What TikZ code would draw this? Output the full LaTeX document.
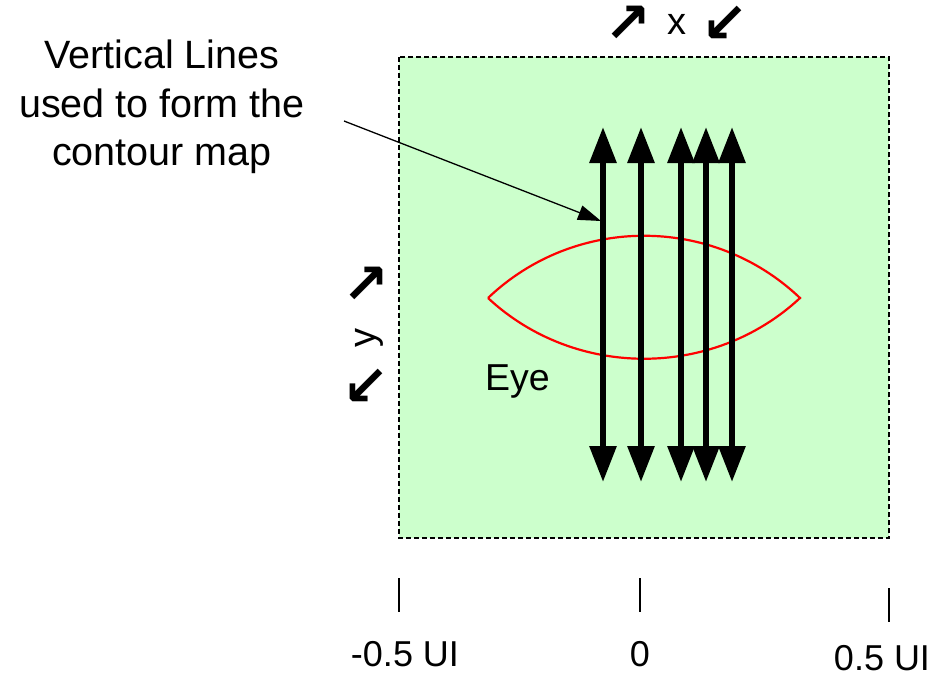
\documentclass[tikz,border=0pt]{standalone}
\usepackage{fontspec}
\setmainfont{Liberation Sans}
\newfontfamily\arrowfont{DejaVu Sans Bold}
\usetikzlibrary{arrows.meta,positioning}
\definecolor{boxgreen}{HTML}{CCFFCC}

\begin{document}
\begin{tikzpicture}[x=1pt,y=-1pt,
  lbl/.style={font=\fontsize{36}{48.5}\selectfont,inner sep=0pt},
  diag/.style={font=\arrowfont\fontsize{56}{56}\selectfont,inner sep=0pt},
  scan/.style={black,line width=6pt,{Triangle[length=36pt,width=26pt]}-{Triangle[length=36pt,width=26pt]}},
  pointer/.style={black,line width=1.3pt,-{Triangle[length=23pt,width=15pt]}},
  tick/.style={black,line width=1.5pt}
]
  \useasboundingbox (0,0) rectangle (947,678);

  % Unit interval window
  \draw[fill=boxgreen,line width=1.2pt,dash pattern=on 5pt off 3pt] (399,57) rectangle (889,538);

  % Eye opening
  \draw[red,line width=2.2pt] (488,298) .. controls (575,215) and (713,215) .. (800,298)
                                        .. controls (713,379) and (575,379) .. (488,298);

  % Vertical scan lines
  \foreach \n/\x in {1/603,2/641,3/681,4/706,5/732}{
    \coordinate (t\n) at (\x,127);
    \coordinate (b\n) at (\x,482);
    \draw[scan] (b\n) -- (t\n);
  }

  % Label with pointer
  \node[lbl,font=\fontsize{39.5}{48.5}\selectfont,align=center,anchor=north] (vlines) at (162,40) {Vertical Lines\\used to form the\\contour map};
  \coordinate (ptr) at (344,121);
  \coordinate (hit) at (601,221);
  \draw[pointer] (ptr) -- (hit);

  \node[lbl,font=\fontsize{37.5}{40}\selectfont,anchor=base west] (eye) at (485,390) {Eye};

  % Axis directions
  \node[diag] (xne) at (628,24) {↗};
  \node[lbl,font=\fontsize{38}{40}\selectfont,anchor=base] (xlbl) at (677,34) {x};
  \node[diag] (xsw) at (725,24) {↙};
  \node[diag] (yne) at (366,285) {↗};
  \node[lbl,font=\fontsize{38}{40}\selectfont,rotate=90] (ylbl) at (369,338) {y};
  \node[diag] (ysw) at (366,387) {↙};

  % Ticks and values
  \coordinate (k1a) at (399,578); \coordinate (k1b) at (399,612);
  \coordinate (k2a) at (640,578); \coordinate (k2b) at (640,612);
  \coordinate (k3a) at (889,588); \coordinate (k3b) at (889,622);
  \foreach \k in {1,2,3}{
    \draw[tick] (k\k a) -- (k\k b);
  }
  \node[lbl,anchor=base] (lo) at (405,666) {-0.5 UI};
  \node[lbl,anchor=base] (mid) at (640,666) {0};
  \node[lbl,anchor=base] (hi) at (882,670) {0.5 UI};
\end{tikzpicture}
\end{document}
